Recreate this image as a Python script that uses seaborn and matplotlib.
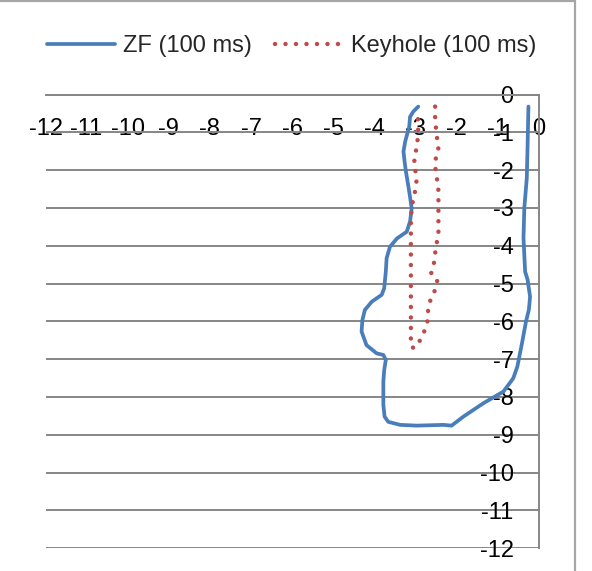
import numpy as np
import pandas as pd
import seaborn as sns
import matplotlib.pyplot as plt
from matplotlib.lines import Line2D

# ZF (100 ms) outline (x, y)
zf_x = [-2.93, -3.05, -3.13, -3.15, -3.25, -3.29, -3.26, -3.23, -3.15, -3.09,
        -3.13, -3.21, -3.45, -3.62, -3.70, -3.72, -3.76, -3.82, -4.06, -4.23,
        -4.29, -4.31, -4.19, -3.94, -3.78, -3.72, -3.76, -3.78, -3.78, -3.75,
        -3.66, -3.37, -2.97, -2.32, -2.12, -1.83, -1.35, -0.86, -0.62, -0.52,
        -0.41, -0.31, -0.24, -0.21, -0.27, -0.33, -0.37, -0.35, -0.29, -0.27,
        -0.25]
zf_y = [-0.32, -0.45, -0.59, -0.85, -1.25, -1.51, -1.80, -2.04, -2.57, -3.01,
        -3.36, -3.63, -3.81, -4.03, -4.33, -4.69, -5.13, -5.30, -5.48, -5.70,
        -5.97, -6.27, -6.63, -6.85, -6.89, -7.02, -7.30, -7.60, -8.21, -8.52,
        -8.66, -8.74, -8.76, -8.74, -8.76, -8.52, -8.17, -7.86, -7.51, -7.20,
        -6.60, -6.01, -5.70, -5.35, -4.90, -4.69, -3.80, -3.00, -2.22, -1.34,
        -0.32]

# Keyhole (100 ms) outline
kh_x = [-2.52, -2.52, -2.50, -2.47, -2.44, -2.51, -2.51, -2.47, -2.44, -2.44,
        -2.44, -2.44, -2.44, -2.48, -2.52, -2.55, -2.62, -2.47, -2.52, -2.63,
        -2.69, -2.70, -2.77, -2.87, -3.03, -3.11, -3.11, -3.11, -3.11, -3.11,
        -3.11, -3.11, -3.09, -3.05, -2.99, -2.97, -3.01, -3.03, -2.97, -2.94,
        -2.93, -2.94]
kh_y = [-0.32, -0.59, -0.88, -1.18, -1.45, -1.72, -2.00, -2.27, -2.54, -2.82,
        -3.10, -3.37, -3.65, -3.92, -4.20, -4.47, -4.75, -4.93, -5.17, -5.42,
        -5.68, -5.97, -6.23, -6.48, -6.71, -6.67, -6.20, -5.50, -4.72, -4.15,
        -3.59, -3.30, -3.01, -2.75, -2.48, -2.24, -1.95, -1.69, -1.41, -1.13,
        -0.85, -0.57]

x_ticks = list(range(-12, 1))
x_labels = [str(v) for v in x_ticks]
y_ticks = list(range(-12, 1))
y_labels = [str(v) for v in y_ticks]

sns.set_style("white")
plt.rcParams['font.family'] = ['Liberation Sans', 'DejaVu Sans']
plt.rcParams['axes.unicode_minus'] = False

W, H = 592, 571
fig = plt.figure(figsize=(W / 100, H / 100), dpi=100)
x0, x1, y0, y1 = 45.5, 538.7, 94.5, 548.1
ax = fig.add_axes([x0 / W, 1 - y1 / H, (x1 - x0) / W, (y1 - y0) / H])

grey = '#868686'
sns.lineplot(x=zf_x, y=zf_y, sort=False, estimator=None, ax=ax,
             color='#4A7EBB', lw=2.7, solid_joinstyle='round',
             solid_capstyle='round', label='ZF (100 ms)')
sns.lineplot(x=kh_x, y=kh_y, sort=False, estimator=None, ax=ax,
             color='#BE4B48', lw=3.2, linestyle=(0, (0.01, 2.35)),
             dash_capstyle='round', label='Keyhole (100 ms)')

ax.set_xlim(-12, 0)
ax.set_ylim(-12, 0)
ax.set_xticks(x_ticks)
ax.set_xticklabels(x_labels)
ax.set_yticks(y_ticks)
ax.set_yticklabels(y_labels)
ax.grid(False)
ax.yaxis.grid(True, color=grey, lw=1.4)
ax.set_axisbelow(True)

for side in ['top', 'right']:
    ax.spines[side].set_visible(False)
ax.spines['bottom'].set_position(('data', 0))
ax.spines['left'].set_position(('data', 0))
for side in ['bottom', 'left']:
    ax.spines[side].set_color(grey)
    ax.spines[side].set_linewidth(1.4)

ax.tick_params(axis='x', direction='in', length=6, width=1.4, color=grey,
               pad=17, labelsize=17, labelcolor='black')
ax.tick_params(axis='y', length=0, pad=18, labelsize=17, labelcolor='black')
ax.set_xlabel('')
ax.set_ylabel('')

handles, labels = ax.get_legend_handles_labels()
ax.get_legend().remove()
fig.legend(handles, labels, loc='center', bbox_to_anchor=(291.5 / W, 1 - 46 / H),
           ncol=2, frameon=False, fontsize=17, handlelength=2.9,
           handletextpad=0.3, columnspacing=1.0)

# chart area frame (top and right edges visible)
fx = 574.5 / W
fig.add_artist(Line2D([0, fx], [1 - 1 / H, 1 - 1 / H], transform=fig.transFigure,
                      color='#a6a6a6', lw=1.6))
fig.add_artist(Line2D([fx, fx], [0, 1 - 1 / H], transform=fig.transFigure,
                      color='#a6a6a6', lw=1.6))

fig.savefig('out.png', dpi=100)
